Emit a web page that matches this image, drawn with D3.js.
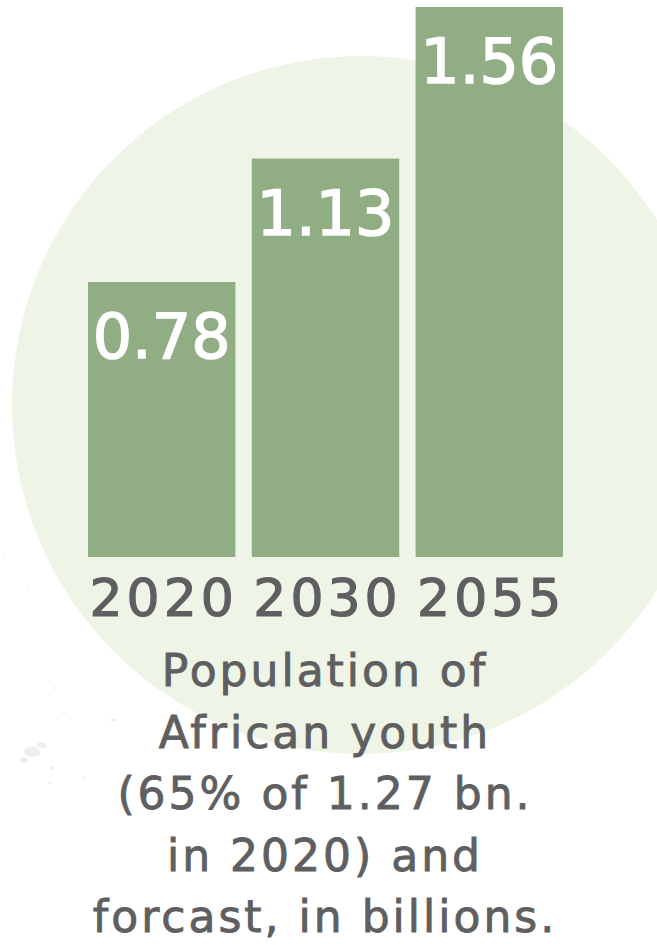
<!DOCTYPE html>
<html>
<head>
<meta charset="utf-8">
<script src="https://cdn.jsdelivr.net/npm/d3@7"></script>
<style>
  html, body { margin: 0; padding: 0; background: #fff; }
  #chart { width: 657px; height: 951px; }
  .year-label { font-family: "DejaVu Sans", sans-serif; fill: #5f5f61; stroke: #5f5f61; }
  .value-label { font-family: "DejaVu Sans", sans-serif; fill: #fff; stroke: #fff; }
  .caption { font-family: "DejaVu Sans", sans-serif; fill: #5f5f61; stroke: #5f5f61; }
</style>
</head>
<body>
<div id="chart"></div>
<script>
// data (billions)
const years = ['2020', '2030', '2055'];
const youthPopulation = [0.78, 1.13, 1.56];
const captionLines = [
  'Population of',
  'African youth',
  '(65% of 1.27 bn.',
  'in 2020) and',
  'forcast, in billions.'
];

class YouthBars {
  constructor(_config) {
    this.config = {
      parentElement: _config.parentElement,
      containerWidth: _config.containerWidth || 657,
      containerHeight: _config.containerHeight || 951,
      barLeft: 88,
      barRight: 563,
      baseline: 557,
      top: 7,
      barColor: '#91ad83',
      circleColor: '#eef4e6'
    }
    this.initVis();
  }

  initVis() {
    let vis = this;

    vis.svg = d3.select(vis.config.parentElement).append('svg')
        .attr('width', vis.config.containerWidth)
        .attr('height', vis.config.containerHeight);

    // big pale circle behind the bars
    vis.svg.append('circle')
        .attr('cx', 361)
        .attr('cy', 405)
        .attr('r', 349)
        .attr('fill', vis.config.circleColor);

    // faint paint specks, bottom left
    const specks = [[32, 752, 8, 5], [42, 745, 5, 3], [24, 760, 4, 3], [52, 768, 2, 2],
                    [50, 783, 1.5, 1.5], [114, 720, 3, 1.5], [84, 778, 1.5, 2], [55, 688, 2, 1],
                    [28, 590, 1, 1], [4, 555, 1, 1], [64, 713, 1.5, 1]];
    vis.svg.append('g').selectAll('ellipse')
        .data(specks)
      .join('ellipse')
        .attr('cx', d => d[0]).attr('cy', d => d[1])
        .attr('rx', d => d[2]).attr('ry', d => d[3])
        .attr('fill', '#eeefef');

    vis.xScale = d3.scaleBand()
        .domain(years)
        .range([vis.config.barLeft, vis.config.barRight])
        .paddingInner(0.1)
        .paddingOuter(0);

    vis.yScale = d3.scaleLinear()
        .domain([0, d3.max(youthPopulation)])
        .range([vis.config.baseline, vis.config.top]);

    vis.chart = vis.svg.append('g');
    vis.renderVis();
  }

  renderVis() {
    let vis = this;
    const data = years.map((y, i) => ({year: y, value: youthPopulation[i]}));

    vis.chart.selectAll('.bar')
        .data(data)
      .join('rect')
        .attr('class', 'bar')
        .attr('x', d => vis.xScale(d.year))
        .attr('width', vis.xScale.bandwidth())
        .attr('y', d => vis.yScale(d.value))
        .attr('height', d => vis.config.baseline - vis.yScale(d.value))
        .attr('fill', vis.config.barColor);

    // values written inside the top of each bar
    vis.chart.selectAll('.value-label')
        .data(data)
      .join('text')
        .attr('class', 'value-label')
        .attr('x', d => vis.xScale(d.year) + vis.xScale.bandwidth() / 2)
        .attr('y', d => vis.yScale(d.value) + 76)
        .attr('text-anchor', 'middle')
        .style('font-size', '62px')
        .style('stroke-width', '1.5px')
        .text(d => d.value.toFixed(2));

    // year labels under the bars
    vis.chart.selectAll('.year-label')
        .data(data)
      .join('text')
        .attr('class', 'year-label')
        .attr('x', d => vis.xScale(d.year) + vis.xScale.bandwidth() / 2 + 2)
        .attr('y', vis.config.baseline + 59)
        .attr('text-anchor', 'middle')
        .style('font-size', '52px')
        .style('letter-spacing', '4px')
        .style('stroke-width', '1.2px')
        .text(d => d.year);

    // caption block
    vis.svg.append('g').selectAll('.caption')
        .data(captionLines)
      .join('text')
        .attr('class', 'caption')
        .attr('x', 325)
        .attr('y', (d, i) => 686 + i * 61.5)
        .attr('text-anchor', 'middle')
        .style('font-size', '44px')
        .style('letter-spacing', '3px')
        .style('stroke-width', '0.9px')
        .text(d => d);
  }
}

new YouthBars({parentElement: '#chart'});
</script>
</body>
</html>
